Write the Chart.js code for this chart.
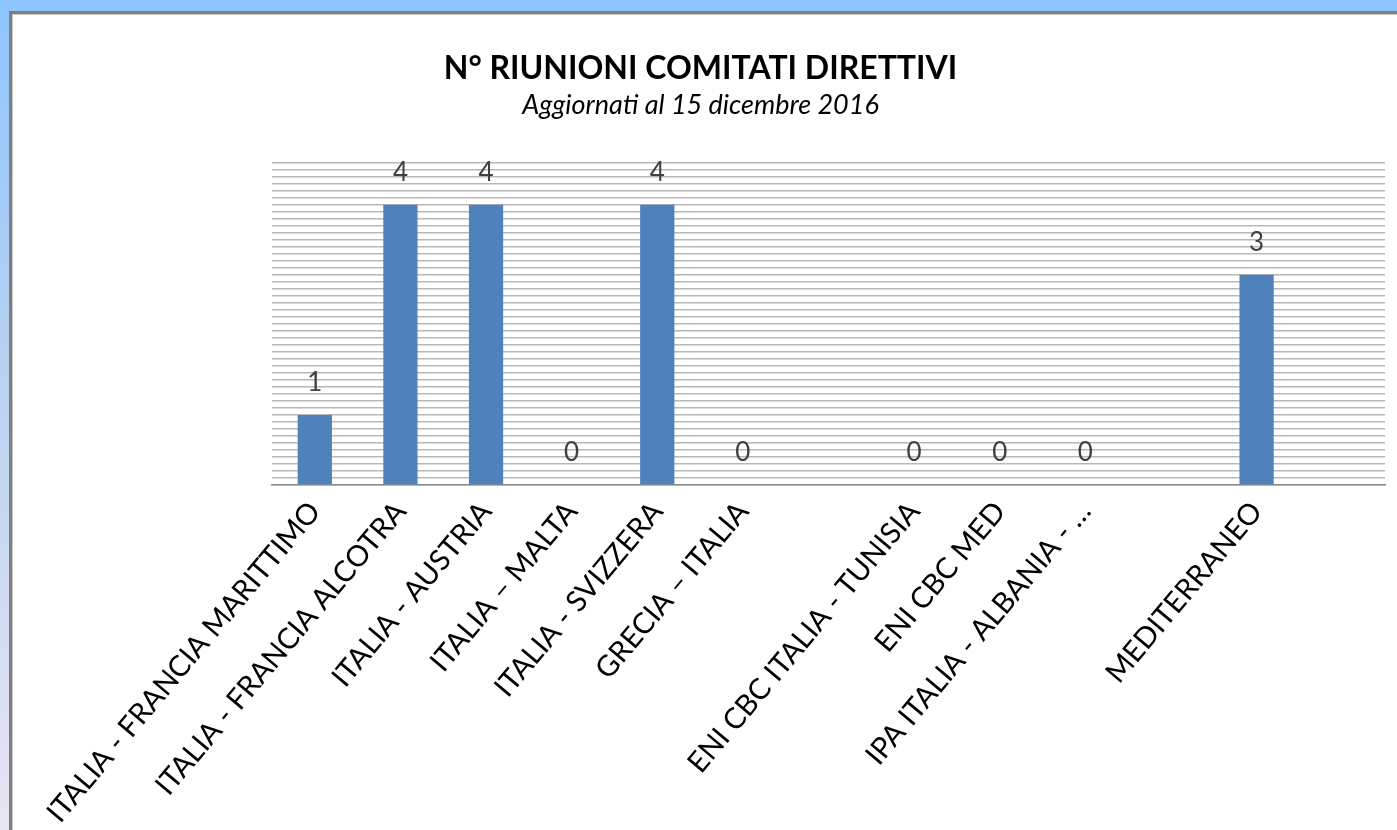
<!DOCTYPE html>
<html>
<head>
<meta charset="utf-8">
<script src="https://cdn.jsdelivr.net/npm/chart.js"></script>
<style>
  html, body { margin: 0; padding: 0; }
  body {
    width: 1397px; height: 830px; overflow: hidden; position: relative;
    background: linear-gradient(to bottom, #8ec5fe 0%, #b8d2f0 45%, #e9e4f3 100%);
  }
  #panel {
    position: absolute; left: 9px; top: 11px; width: 1500px; height: 900px;
    background: #fff; border-top: 3px solid #7f7f7f; border-left: 3px solid #7f7f7f;
    box-shadow: inset 1px 1px 0 #c8c8c8;
  }
  #topband { position: absolute; left: 0; top: 0; width: 1397px; height: 11px; background: #8ec5fe; }
  canvas { position: absolute; left: 0; top: 0; }
</style>
</head>
<body>
<div id="topband"></div>
<div id="panel"></div>
<canvas id="myChart" width="1397" height="830"></canvas>
<script>
    var categories = [
        'ITALIA - FRANCIA MARITTIMO',
        'ITALIA - FRANCIA ALCOTRA',
        'ITALIA - AUSTRIA',
        'ITALIA \u2013 MALTA',
        'ITALIA - SVIZZERA',
        'GRECIA \u2013 ITALIA',
        '',
        'ENI CBC ITALIA - TUNISIA',
        'ENI CBC MED',
        'IPA ITALIA - ALBANIA - \u2026',
        '',
        'MEDITERRANEO',
        ''
    ];
    var riunioni = [1, 4, 4, 0, 4, 0, null, 0, 0, 0, null, 3, null];
    var titleText = 'N\u00b0 RIUNIONI COMITATI DIRETTIVI';
    var subtitleText = 'Aggiornati al 15 dicembre 2016';

    // draws the number above each bar
    var valueLabels = {
        id: 'valueLabels',
        afterDatasetsDraw(chart) {
            var ctx = chart.ctx;
            var meta = chart.getDatasetMeta(0);
            ctx.save();
            ctx.font = Chart.helpers.toFont({ family: 'Lato', size: 26 }).string;
            ctx.fillStyle = '#404040';
            ctx.textAlign = 'center';
            ctx.textBaseline = 'middle';
            meta.data.forEach(function (bar, i) {
                var v = chart.data.datasets[0].data[i];
                if (v === null) return;
                ctx.fillText(String(v), bar.x, bar.y - 32);
            });
            ctx.restore();
        }
    };

    var chart = new Chart(document.getElementById('myChart').getContext('2d'), {
        type: 'bar',
        data: {
            labels: categories,
            datasets: [{
                data: riunioni,
                backgroundColor: '#4f81bd',
                barPercentage: 0.8,
                categoryPercentage: 0.5
            }]
        },
        options: {
            responsive: false,
            animation: false,
            layout: { padding: { left: 16, right: 12, top: 30, bottom: 0 } },
            plugins: {
                legend: { display: false },
                tooltip: { enabled: false },
                title: {
                    display: true,
                    text: titleText,
                    color: '#000',
                    font: { family: 'Lato', size: 32, weight: 'bold' },
                    padding: { top: 19, bottom: 0 }
                },
                subtitle: {
                    display: true,
                    text: subtitleText,
                    color: '#000',
                    font: { family: 'Lato', size: 27, style: 'italic' },
                    padding: { top: 2, bottom: 41 }
                }
            },
            scales: {
                x: {
                    grid: { display: false, drawTicks: false },
                    border: { display: true, color: '#8c8c8c', width: 1.5 },
                    ticks: {
                        autoSkip: false,
                        minRotation: 50,
                        maxRotation: 50,
                        padding: 10,
                        color: '#000',
                        font: { family: 'Lato', size: 29 }
                    },
                    afterFit(scale) { scale.height = 345; }
                },
                y: {
                    min: 0,
                    max: 4.6,
                    grid: { color: '#b8b8b8', lineWidth: 1.5, drawTicks: false },
                    border: { display: false },
                    ticks: { display: false, stepSize: 0.1, maxTicksLimit: 100 },
                    afterFit(scale) { scale.width = 256; }
                }
            }
        },
        plugins: [valueLabels]
    });
</script>
</body>
</html>
